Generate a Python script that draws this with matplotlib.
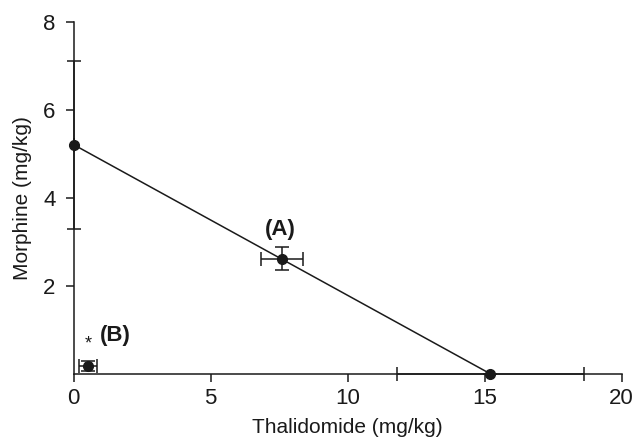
import matplotlib
matplotlib.use("Agg")
import matplotlib.pyplot as plt

plt.rcParams['font.family'] = ['Liberation Sans', 'DejaVu Sans']

# isobologram data (mg/kg)
thal_x = [0, 15.2]
morph_y = [5.21, 0]
single_xerr = [0, 3.41]
single_yerr = [1.91, 0]

combo_labels = ["(A)", "(B)"]
combo_x = [7.59, 0.52]
combo_y = [2.62, 0.18]
combo_xerr = [0.77, 0.33]
combo_yerr = [0.27, 0.12]

fig = plt.figure(figsize=(6.35, 4.41), dpi=100)
ax = fig.add_axes([0.116, 0.1526, 0.863, 0.7974])

col = "#1a1a1a"
# additive line
ax.plot(thal_x, morph_y, color=col, lw=1.1, zorder=2)
ax.errorbar(thal_x, morph_y, xerr=single_xerr, yerr=single_yerr, fmt="o",
            color=col, ms=7, capsize=5, elinewidth=1.1, capthick=1.1,
            clip_on=False, zorder=3)
ax.errorbar(combo_x, combo_y, xerr=combo_xerr, yerr=combo_yerr, fmt="o",
            color=col, ms=7, capsize=5, elinewidth=1.1, capthick=1.1,
            clip_on=False, zorder=3)

ax.text(combo_x[0] - 0.05, combo_y[0] + 0.42, combo_labels[0], ha="center",
        va="bottom", fontsize=16, fontweight="bold", color=col)
ax.text(combo_x[1] + 0.45, combo_y[1] + 0.45, combo_labels[1], ha="left",
        va="bottom", fontsize=16, fontweight="bold", color=col)
ax.text(combo_x[1], combo_y[1] + 0.3, "*", ha="center", va="bottom",
        fontsize=13, color=col)

ax.set_xlim(0, 20)
ax.set_ylim(0, 8)
ax.set_xticks([0, 5, 10, 15, 20])
ax.set_yticks([2, 4, 6, 8])
ax.spines['top'].set_visible(False)
ax.spines['right'].set_visible(False)
for s in ['left', 'bottom']:
    ax.spines[s].set_linewidth(1.1)
    ax.spines[s].set_color(col)
ax.tick_params(labelsize=16, width=1.1, length=6, colors=col)
ax.tick_params(axis='y', pad=7)
ax.tick_params(axis='x', pad=4)
ax.set_xlabel("Thalidomide (mg/kg)", fontsize=15, color=col, labelpad=7)
ax.set_ylabel("Morphine (mg/kg)", fontsize=15, color=col, labelpad=8)

fig.savefig("out.png", dpi=100)
